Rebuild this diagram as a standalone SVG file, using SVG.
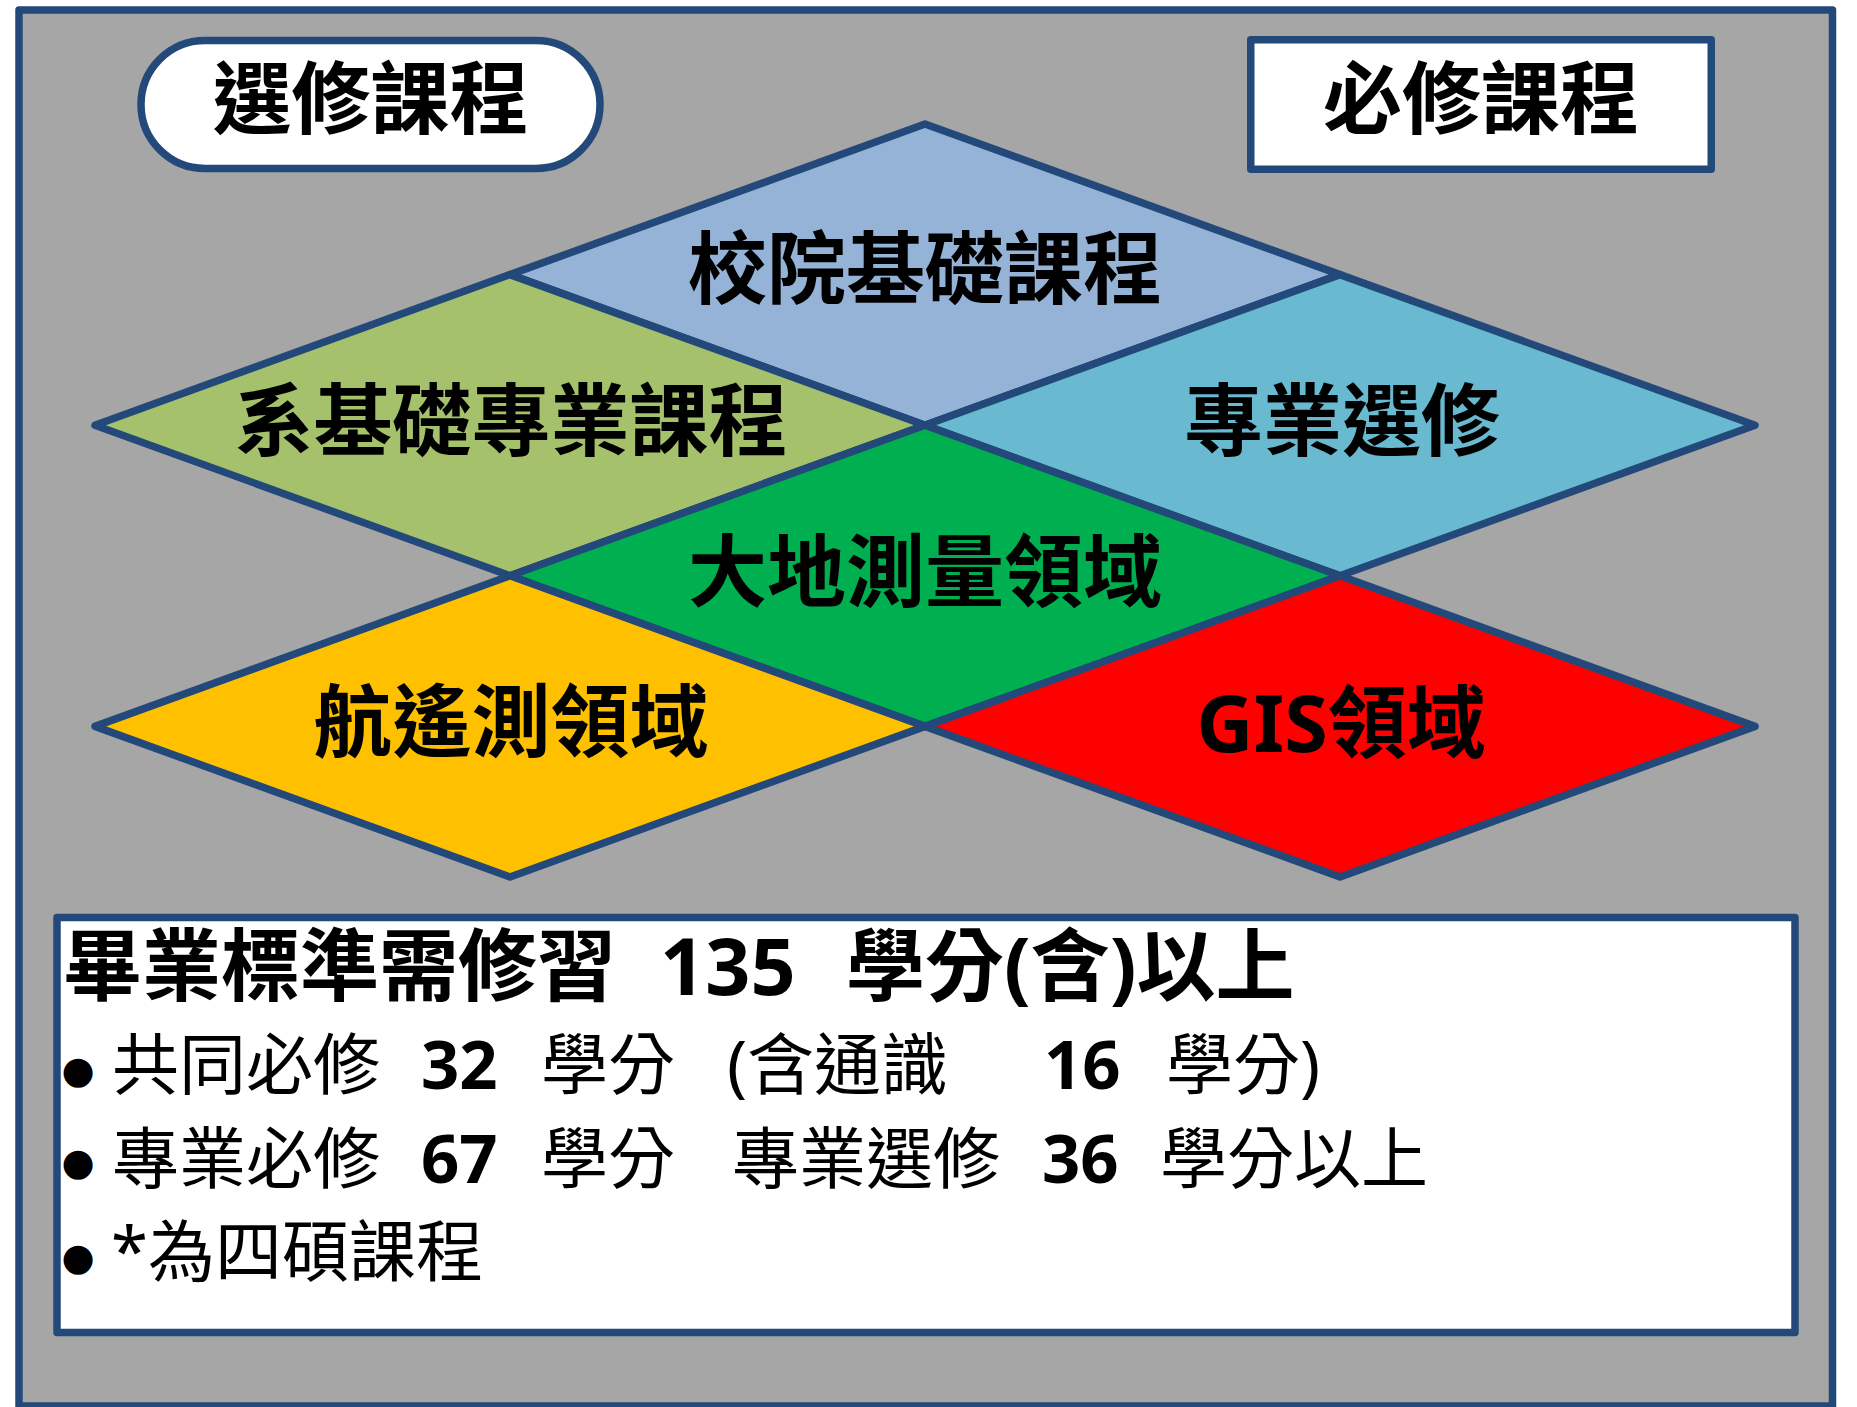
<svg xmlns="http://www.w3.org/2000/svg" width="1857" height="1407" viewBox="0 0 1857 1407">
  <style>
    .frame { fill: #A6A6A6; stroke: #23497A; stroke-width: 7.5; stroke-linejoin: round; }
    .box { fill: #FFFFFF; stroke: #23497A; stroke-width: 7.5; stroke-linejoin: round; }
    .dia { stroke: #23497A; stroke-width: 7.5; stroke-linejoin: round; }
    .big { font-family: "Noto Sans", "Noto Sans CJK TC", sans-serif; font-weight: 700; font-size: 79px; fill: #000000; }
    .mid { font-family: "Noto Sans", "Noto Sans CJK TC", sans-serif; font-weight: 400; font-size: 67px; fill: #000000; }
    .num { font-weight: 700; }
    .bul { font-family: "DejaVu Sans", sans-serif; font-size: 38px; fill: #000000; }
  </style>
  <rect width="1857" height="1407" fill="#FFFFFF"/>
  <rect id="frame" class="frame" x="19" y="10" width="1813.5" height="1396"/>

  <g id="connectors"></g>

  <g id="elective-label">
    <rect class="box" x="141" y="40.5" width="459" height="128" rx="64" ry="64"/>
    <text class="big" x="370.5" y="127.5" text-anchor="middle">選修課程</text>
  </g>

  <g id="required-label">
    <rect class="box" x="1250.75" y="39.75" width="460.5" height="129.5"/>
    <text class="big" x="1481" y="127.5" text-anchor="middle">必修課程</text>
  </g>

  <g id="school-basic">
    <polygon class="dia" fill="#95B3D7" points="925,124 1340,274.6 925,425.2 510,274.6"/>
    <text class="big" x="925" y="298" text-anchor="middle">校院基礎課程</text>
  </g>

  <g id="dept-basic">
    <polygon class="dia" fill="#A5C16C" points="510,274.6 925,425.2 510,575.8 95,425.2"/>
    <text class="big" x="511" y="450" text-anchor="middle">系基礎專業課程</text>
  </g>

  <g id="pro-elective">
    <polygon class="dia" fill="#69BAD0" points="1340,274.6 1755,425.2 1340,575.8 925,425.2"/>
    <text class="big" x="1342" y="450" text-anchor="middle">專業選修</text>
  </g>

  <g id="geodesy">
    <polygon class="dia" fill="#00B050" points="925,425.2 1340,575.8 925,726.4 510,575.8"/>
    <text class="big" x="925" y="601" text-anchor="middle">大地測量領域</text>
  </g>

  <g id="remote-sensing">
    <polygon class="dia" fill="#FFC000" points="510,575.8 925,726.4 510,877 95,726.4"/>
    <text class="big" x="511" y="751" text-anchor="middle">航遙測領域</text>
  </g>

  <g id="gis">
    <polygon class="dia" fill="#FF0000" points="1340,575.8 1755,726.4 1340,877 925,726.4"/>
    <text class="big" x="1341" y="752" text-anchor="middle">GIS領域</text>
  </g>

  <g id="requirements">
    <rect class="box" x="57" y="917.5" width="1738" height="415"/>
    <text class="big" y="995"><tspan x="63">畢業標準需修習</tspan><tspan x="660">135</tspan><tspan x="846">學分(含)以上</tspan></text>

    <text class="bul" x="78" y="1083" text-anchor="middle">●</text>
    <text class="mid" y="1089"><tspan x="112">共同必修</tspan><tspan class="num" x="421">32</tspan><tspan x="541">學分</tspan><tspan x="727">(含通識</tspan><tspan class="num" x="1044">16</tspan><tspan x="1166">學分)</tspan></text>

    <text class="bul" x="78" y="1175" text-anchor="middle">●</text>
    <text class="mid" y="1183"><tspan x="112">專業必修</tspan><tspan class="num" x="421">67</tspan><tspan x="541">學分</tspan><tspan x="732">專業選修</tspan><tspan class="num" x="1042">36</tspan><tspan x="1160">學分以上</tspan></text>

    <text class="bul" x="78" y="1270" text-anchor="middle">●</text>
    <text class="mid" y="1276"><tspan x="111">*為四碩課程</tspan></text>
  </g>
</svg>
